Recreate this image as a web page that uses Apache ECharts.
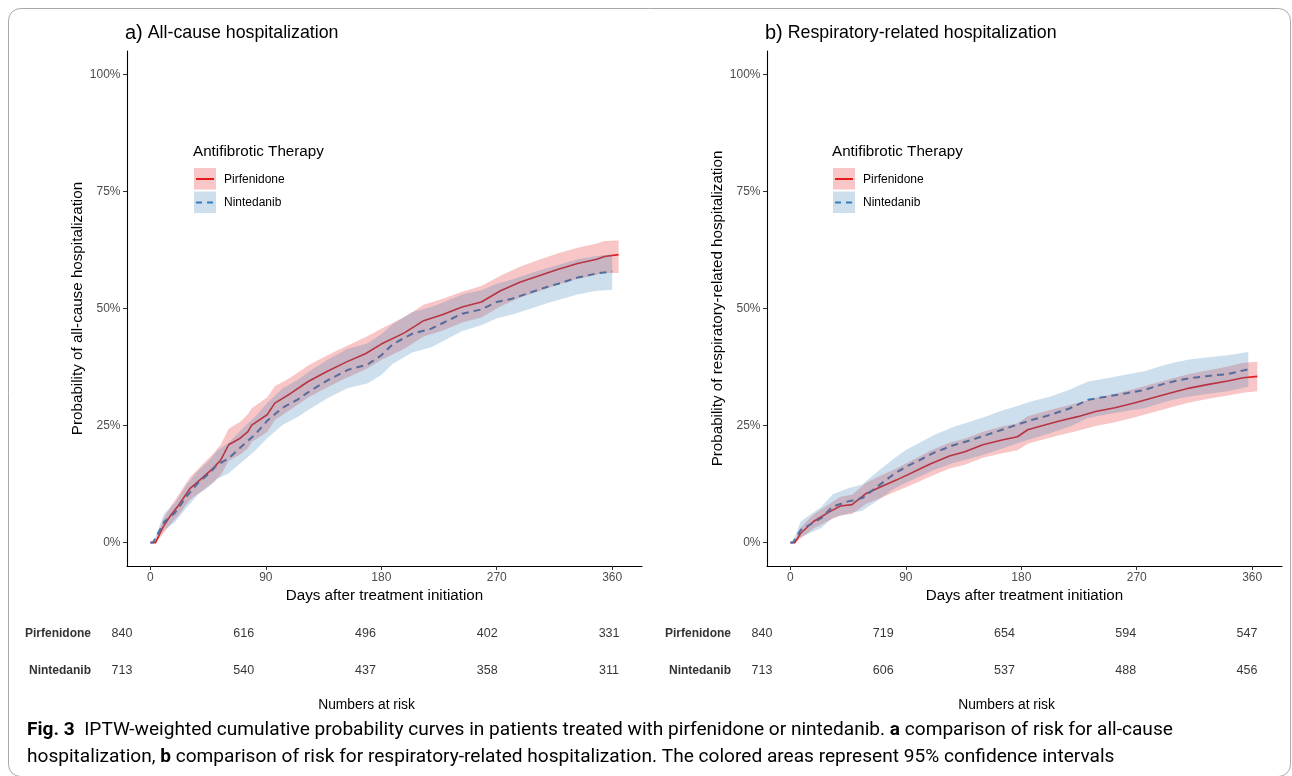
<!DOCTYPE html>
<html><head><meta charset="utf-8">
<script src="https://cdn.jsdelivr.net/npm/echarts@6/dist/echarts.min.js"></script>
<style>html,body{margin:0;padding:0;background:#fff}#c{width:1292px;height:776px}</style>
</head><body><div id="c"></div>
<script>
// ---------- data ----------
const xTicks = [0, 90, 180, 270, 360];
const yTicks = [0, 25, 50, 75, 100];
const riskTimes = [0, 90, 180, 270, 360];
const riskRows = ['Nintedanib', 'Pirfenidone'];

// Panel a: all-cause hospitalization (%)
const aPirfDays = [0,4,10,16,22,31,40,49,55,61,70,76,79,91,97,109,123,138,153,168,180,198,213,228,243,258,273,288,303,318,333,348,354,365];
const aPirf     = [0,0,3.4,5.9,8.0,11.6,13.7,15.9,17.7,20.9,22.3,23.7,25.1,27.3,29.8,31.8,34.4,36.6,38.6,40.4,42.4,44.8,47.4,48.7,50.3,51.4,53.8,55.6,57.0,58.4,59.6,60.5,61.1,61.5];
const aPirfHi   = [0,0.5,5.0,7.8,10.2,14.0,16.5,19.0,21.0,24.3,25.8,27.4,28.7,31.0,33.4,35.2,37.8,40.0,42.0,43.9,45.7,48.2,50.8,52.1,53.6,54.8,57.0,58.9,60.4,61.8,63.0,63.9,64.4,64.5];
const aPirfLo   = [0,0,1.9,4.0,5.9,9.2,11.0,12.9,14.5,17.5,18.8,20.1,21.5,23.6,26.2,28.4,31.0,33.2,35.2,37.0,39.0,41.4,44.0,45.3,47.0,48.1,50.5,52.3,53.7,55.1,56.3,57.2,57.6,57.6];

const aNintDays = [0,2,11,19,28,37,46,52,61,73,82,91,103,115,124,139,154,169,180,189,204,219,228,243,258,270,282,297,309,318,333,348,360];
const aNint     = [0,0,4.5,6.3,9.8,12.7,14.8,16.6,18.0,21.0,23.2,26.0,28.8,30.6,32.3,34.8,36.9,38.0,40.0,42.4,44.6,45.7,46.9,48.9,49.8,51.4,52.1,53.5,54.6,55.3,56.6,57.5,57.9];
const aNintHi   = [0,0,6.3,8.4,12.3,15.3,17.6,19.6,21.3,24.7,27.0,29.8,32.9,34.8,36.6,39.2,41.4,42.5,44.5,46.7,49.2,50.3,51.3,53.0,53.9,55.3,56.2,57.6,58.6,59.3,60.5,61.2,61.6];
const aNintLo   = [0,0,2.8,4.3,7.4,10.2,12.0,13.6,14.8,17.6,19.7,22.3,25.1,26.9,28.5,31.0,33.0,34.0,35.8,38.2,40.6,41.7,43.0,45.2,46.4,47.9,48.7,50.0,51.1,51.8,53.0,53.8,54.0];

const aRiskPirf = [840, 616, 496, 402, 331];
const aRiskNint = [713, 540, 437, 358, 311];

// Panel b: respiratory-related hospitalization (%)
const bPirfDays = [0,3.5,8,18,30,39,48,59,71,83,90,100,109,124,136,150,165,177,185,194,209,224,238,253,268,282,297,311,326,341,353,364];
const bPirf     = [0,0,2.0,4.5,6.5,7.8,8.1,10.5,12.0,13.4,14.3,15.6,16.8,18.5,19.4,20.9,21.9,22.6,24.1,24.8,25.9,26.9,28.0,28.8,29.8,30.9,32.0,33.0,33.8,34.5,35.2,35.5];
const bPirfHi   = [0,0.3,3.2,6.0,8.2,9.8,10.2,12.8,14.4,15.9,16.9,18.3,19.6,21.3,22.2,23.7,24.8,25.5,27.0,27.7,28.8,29.8,30.9,31.8,32.8,33.9,35.0,36.0,36.8,37.6,38.4,38.6];
const bPirfLo   = [0,0,0.9,3.0,4.7,5.8,6.1,8.3,9.6,11.0,11.8,13.0,14.1,15.8,16.6,18.1,19.1,19.7,21.1,21.8,22.9,23.9,24.9,25.7,26.7,27.8,28.9,29.9,30.7,31.4,32.0,32.3];

const bNintDays = [0,2,8,15,24,33,45,56,68,80,90,100,112,127,141,153,165,177,188,203,218,232,247,262,276,291,300,311,326,341,357];
const bNint     = [0,0,2.7,3.8,5.2,7.7,8.8,9.5,12.0,14.5,16.2,17.5,19.2,20.8,21.9,23.0,24.1,25.2,26.2,27.3,28.7,30.5,31.2,31.9,32.6,33.9,34.5,35.1,35.6,36.0,37.0];
const bNintHi   = [0,0.3,4.5,5.9,7.6,10.3,11.6,12.4,15.2,17.8,19.8,21.2,23.0,24.7,25.9,27.0,28.2,29.2,30.2,31.2,32.7,34.4,35.1,35.9,36.6,37.9,38.5,39.1,39.6,40.0,40.7];
const bNintLo   = [0,0,1.2,2.0,3.1,5.3,6.2,6.8,9.0,11.4,12.8,14.0,15.5,17.0,18.0,19.0,20.1,21.2,22.2,23.4,24.8,26.6,27.4,28.1,28.7,30.0,30.6,31.2,31.8,32.3,33.3];

const bRiskPirf = [840, 719, 654, 594, 547];
const bRiskNint = [713, 606, 537, 488, 456];

// ---------- styling ----------
const FONT = "'Liberation Sans', Arial, Helvetica, sans-serif";
const RED = '#E41A1C', BLUE = '#377EB8';
const RED_FILL = 'rgba(228,26,28,0.25)', BLUE_FILL = 'rgba(55,126,184,0.25)';

const chart = echarts.init(document.getElementById('c'), null, {renderer: 'canvas'});

function mainX(idx) {
  return {
    type: 'value', gridIndex: idx, min: -18.25, max: 383.25,
    name: 'Days after treatment initiation', nameLocation: 'middle', nameGap: 21,
    nameTextStyle: {fontFamily: FONT, fontSize: 15.2, color: '#000'},
    axisLine: {show: true, onZero: false, lineStyle: {color: '#000', width: 1.1}},
    axisTick: {show: true, length: 4, customValues: xTicks, lineStyle: {color: '#333'}},
    axisLabel: {customValues: xTicks, margin: 5.5, fontFamily: FONT, fontSize: 12, color: '#4D4D4D'},
    splitLine: {show: false}
  };
}
function mainY(idx, name) {
  return {
    type: 'value', gridIndex: idx, min: -5, max: 105,
    name: name, nameLocation: 'middle', nameRotate: 90, nameGap: 42,
    nameTextStyle: {fontFamily: FONT, fontSize: 15.2, color: '#000'},
    axisLine: {show: true, onZero: false, lineStyle: {color: '#000', width: 1.1}},
    axisTick: {show: true, length: 4, customValues: yTicks, lineStyle: {color: '#333'}},
    axisLabel: {customValues: yTicks, margin: 6.5, fontFamily: FONT, fontSize: 12, color: '#4D4D4D',
      formatter: v => v + '%'},
    splitLine: {show: false}
  };
}
function tableX(idx, min, max) {
  return {
    type: 'value', gridIndex: idx, min: min, max: max,
    name: 'Numbers at risk', nameLocation: 'middle', nameGap: 9,
    nameTextStyle: {fontFamily: FONT, fontSize: 13.8, color: '#000'},
    axisLine: {show: false}, axisTick: {show: false}, axisLabel: {show: false}, splitLine: {show: false}
  };
}
function tableY(idx) {
  return {
    type: 'category', gridIndex: idx, data: riskRows,
    axisLine: {show: false}, axisTick: {show: false}, splitLine: {show: false},
    axisLabel: {margin: 9, fontFamily: FONT, fontSize: 12, fontWeight: 'bold', color: '#333'}
  };
}
function line(xi, days, vals, color, dashed) {
  return {
    type: 'line', xAxisIndex: xi, yAxisIndex: xi, z: 2, silent: true,
    data: days.map((d, i) => [d, vals[i]]), showSymbol: false, symbol: 'none',
    lineStyle: {color: color, width: dashed ? 2 : 1.6, type: dashed ? [7, 5] : 'solid'}
  };
}
function band(xi, days, lo, hi, fill) {
  return {
    type: 'custom', xAxisIndex: xi, yAxisIndex: xi, z: 3, silent: true,
    data: [[days[0], lo[0]]],
    renderItem: function (params, api) {
      const pts = [];
      for (let i = 0; i < days.length; i++) pts.push(api.coord([days[i], hi[i]]));
      for (let i = days.length - 1; i >= 0; i--) pts.push(api.coord([days[i], lo[i]]));
      return {type: 'polygon', shape: {points: pts}, style: {fill: fill}};
    }
  };
}
function risk(xi, vals, row) {
  return {
    type: 'scatter', xAxisIndex: xi, yAxisIndex: xi, silent: true,
    data: riskTimes.map((t, i) => [t, row, vals[i]]),
    symbolSize: 1, itemStyle: {color: 'rgba(0,0,0,0)'},
    label: {show: true, position: 'inside', formatter: p => String(p.value[2]),
      fontFamily: FONT, fontSize: 12.5, color: '#000'}
  };
}
function legend(x0) {
  return [
    {type: 'text', x: x0, y: 152, style: {text: 'Antifibrotic Therapy', font: '15.2px ' + FONT, fill: '#000', textVerticalAlign: 'middle'}},
    {type: 'rect', shape: {x: x0 + 1, y: 168, width: 22, height: 21.5}, style: {fill: RED_FILL}},
    {type: 'line', shape: {x1: x0 + 3, y1: 179, x2: x0 + 21, y2: 179}, style: {stroke: RED, lineWidth: 2}},
    {type: 'text', x: x0 + 31, y: 179.5, style: {text: 'Pirfenidone', font: '12px ' + FONT, fill: '#000', textVerticalAlign: 'middle'}},
    {type: 'rect', shape: {x: x0 + 1, y: 191.5, width: 22, height: 21.5}, style: {fill: BLUE_FILL}},
    {type: 'line', shape: {x1: x0 + 3, y1: 202.5, x2: x0 + 21, y2: 202.5}, style: {stroke: BLUE, lineWidth: 2, lineDash: [6, 5]}},
    {type: 'text', x: x0 + 31, y: 203, style: {text: 'Nintedanib', font: '12px ' + FONT, fill: '#000', textVerticalAlign: 'middle'}}
  ];
}
function title(x0, letter, text) {
  return {type: 'text', x: x0, y: 33, style: {
    text: '{l|' + letter + '}{t|' + text + '}', textVerticalAlign: 'middle',
    rich: {l: {fontFamily: FONT, fontSize: 20, color: '#000'}, t: {fontFamily: FONT, fontSize: 17.8, color: '#000'}}
  }};
}

const CAPFONT = "Roboto, 'Open Sans', sans-serif";
const capRich = {
  n: {fontFamily: CAPFONT, fontSize: 19.1, color: '#231F20'},
  b: {fontFamily: CAPFONT, fontSize: 19.1, fontWeight: 'bold', color: '#231F20'}
};

chart.setOption({
  animation: false,
  backgroundColor: '#fff',
  grid: [
    {left: 127, top: 51, width: 515, height: 515},
    {left: 767, top: 51, width: 515, height: 515},
    {left: 100, top: 615.5, width: 533, height: 74},
    {left: 740, top: 615.5, width: 533, height: 74}
  ],
  xAxis: [mainX(0), mainX(1), tableX(2, -16.26, 377.7), tableX(3, -16.33, 379.3)],
  yAxis: [
    mainY(0, 'Probability of all-cause hospitalization'),
    mainY(1, 'Probability of respiratory-related hospitalization'),
    tableY(2), tableY(3)
  ],
  series: [
    line(0, aPirfDays, aPirf, RED, false),
    line(0, aNintDays, aNint, BLUE, true),
    band(0, aPirfDays, aPirfLo, aPirfHi, RED_FILL),
    band(0, aNintDays, aNintLo, aNintHi, BLUE_FILL),
    line(1, bPirfDays, bPirf, RED, false),
    line(1, bNintDays, bNint, BLUE, true),
    band(1, bPirfDays, bPirfLo, bPirfHi, RED_FILL),
    band(1, bNintDays, bNintLo, bNintHi, BLUE_FILL),
    risk(2, aRiskPirf, 'Pirfenidone'),
    risk(2, aRiskNint, 'Nintedanib'),
    risk(3, bRiskPirf, 'Pirfenidone'),
    risk(3, bRiskNint, 'Nintedanib')
  ],
  graphic: [
    {type: 'rect', shape: {x: 8.5, y: 8.5, width: 1282, height: 768, r: 12}, style: {fill: 'none', stroke: '#A8A8A8', lineWidth: 1}, z: -1},
    title(125, 'a)', ' All-cause hospitalization'),
    title(765, 'b)', ' Respiratory-related hospitalization'),
    ...legend(193),
    ...legend(832),
    {type: 'text', x: 27, y: 730, style: {textVerticalAlign: 'middle',
      text: '{b|Fig. 3}{n|  IPTW-weighted cumulative probability curves in patients treated with pirfenidone or nintedanib. }{b|a}{n| comparison of risk for all-cause}',
      rich: capRich}},
    {type: 'text', x: 27, y: 757, style: {textVerticalAlign: 'middle',
      text: '{n|hospitalization, }{b|b}{n| comparison of risk for respiratory-related hospitalization. The colored areas represent 95% confidence intervals}',
      rich: capRich}}
  ]
});
</script></body></html>
